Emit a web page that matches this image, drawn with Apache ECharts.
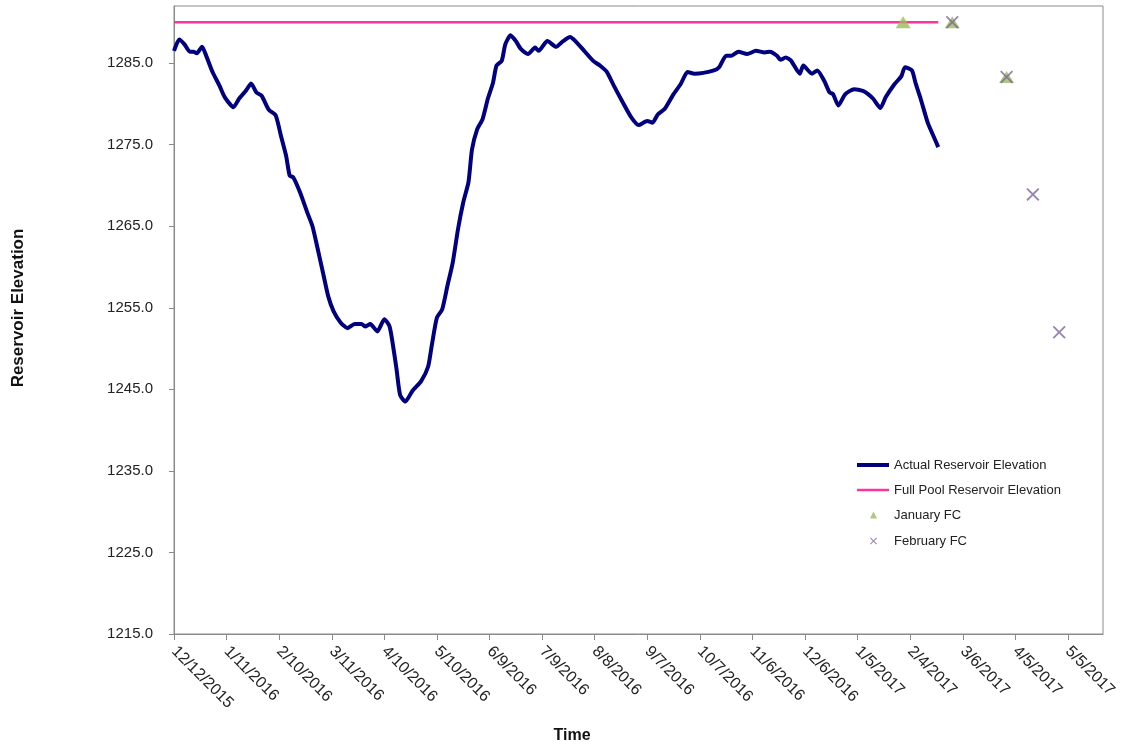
<!DOCTYPE html>
<html>
<head>
<meta charset="utf-8">
<title>Reservoir Elevation</title>
<script src="https://cdn.jsdelivr.net/npm/echarts@6/dist/echarts.min.js"></script>
<style>
  html, body { margin: 0; padding: 0; background: #fff; }
  #chart { width: 1125px; height: 749px; }
</style>
</head>
<body>
<div id="chart"></div>
<script>
// day 0 = 12/12/2015
const startDate = Date.UTC(2015, 11, 12);

const xTickDays = [0, 30, 60, 90, 120, 150, 180, 210, 240, 270, 300, 330, 360, 390, 420, 450, 480, 510];
const yTicks = [1215, 1225, 1235, 1245, 1255, 1265, 1275, 1285];

// actual reservoir elevation (days since start, feet)
const actualDays = [0, 3, 6, 9, 11, 13, 16, 18, 22, 26, 29, 34, 37, 41, 44, 47, 50, 54, 58, 61,
  64, 66, 68, 72, 76, 79, 82, 85, 88, 91, 95, 99, 103, 107, 109, 112, 116, 120, 123, 125,
  127, 129, 132, 136, 141, 145, 147, 150, 153, 156, 159, 162, 165, 168, 170, 173, 176, 179, 182, 184,
  187, 189, 192, 195, 198, 202, 206, 208, 213, 218, 222, 226, 229, 234, 239, 243, 247, 251, 256, 261,
  265, 270, 273, 276, 280, 285, 289, 293, 297, 302, 308, 311, 315, 318, 322, 327, 332, 337, 340, 344,
  346, 349, 352, 357, 359, 364, 367, 371, 374, 376, 379, 383, 388, 393, 396, 399, 403, 406, 411, 415,
  417, 421, 423, 426, 430, 434, 436];
const actualElev = [1286.5, 1287.9, 1287.3, 1286.4, 1286.4, 1286.2, 1287.0, 1286.1, 1283.9, 1282.2, 1280.8, 1279.6, 1280.6, 1281.6, 1282.5, 1281.4, 1281.0, 1279.3, 1278.6, 1276.1,
  1273.6, 1271.2, 1271.0, 1269.1, 1266.7, 1265.0, 1262.2, 1259.3, 1256.4, 1254.6, 1253.2, 1252.5, 1253.0, 1253.0, 1252.7, 1253.0, 1252.1, 1253.6, 1252.7, 1250.3,
  1247.4, 1244.3, 1243.5, 1244.8, 1246.0, 1247.8, 1250.3, 1253.8, 1254.8, 1257.7, 1260.5, 1264.6, 1267.9, 1270.4, 1274.4, 1276.9, 1278.1, 1280.6, 1282.6, 1284.7,
  1285.3, 1287.3, 1288.4, 1287.7, 1286.7, 1286.1, 1286.9, 1286.5, 1287.7, 1287.0, 1287.7, 1288.2, 1287.7, 1286.5, 1285.3, 1284.7, 1283.9, 1282.2, 1280.2, 1278.3,
  1277.4, 1277.9, 1277.7, 1278.7, 1279.4, 1281.2, 1282.4, 1283.9, 1283.7, 1283.8, 1284.1, 1284.5, 1285.9, 1285.9, 1286.4, 1286.1, 1286.5, 1286.3, 1286.4, 1285.9,
  1285.4, 1285.7, 1285.3, 1283.7, 1284.7, 1283.7, 1284.1, 1282.8, 1281.4, 1281.2, 1279.8, 1281.2, 1281.8, 1281.6, 1281.2, 1280.6, 1279.5, 1280.8, 1282.4, 1283.4,
  1284.5, 1284.1, 1282.6, 1280.6, 1277.7, 1275.7, 1274.7];

const fullPoolDays = [0, 436];
const fullPoolElev = [1290, 1290];

const janFcDays = [416, 444, 475];
const janFcElev = [1290, 1290, 1283.3];

const febFcDays = [444, 475, 490, 505];
const febFcElev = [1290, 1283.3, 1268.9, 1252.0];

function pairs(xs, ys) {
  return xs.map((x, i) => [x, ys[i]]);
}

function dayLabel(v) {
  const d = new Date(startDate + v * 86400000);
  return (d.getUTCMonth() + 1) + '/' + d.getUTCDate() + '/' + d.getUTCFullYear();
}

const xMark = 'path://M0,2L2,0L10,8L18,0L20,2L12,10L20,18L18,20L10,12L2,20L0,18L8,10Z';
const font = 'Liberation Sans, Arial, sans-serif';
const legendText = { fontSize: 13, color: '#222', fontFamily: font, lineHeight: 16 };

const chart = echarts.init(document.getElementById('chart'));
chart.setOption({
  backgroundColor: '#fff',
  animation: false,
  textStyle: { fontFamily: font },
  grid: {
    left: 174,
    top: 6,
    right: 22,
    bottom: 115,
    show: true,
    borderColor: '#8a8a8a',
    borderWidth: 1
  },
  legend: [
    {
      // line entries
      orient: 'vertical',
      left: 857,
      top: 457,
      padding: 0,
      itemWidth: 32,
      itemHeight: 8,
      itemGap: 9,
      textStyle: legendText,
      data: [
        { name: 'Actual Reservoir Elevation', icon: 'path://M0,0L32,0L32,4L0,4Z' },
        { name: 'Full Pool Reservoir Elevation', icon: 'path://M0,0L32,0L32,2.5L0,2.5Z' }
      ]
    },
    {
      // marker entries
      orient: 'vertical',
      left: 870,
      top: 507,
      padding: 0,
      itemWidth: 7,
      itemHeight: 7,
      itemGap: 10,
      textStyle: Object.assign({}, legendText, { rich: { g: { width: 12 } } }),
      formatter: name => '{g|}' + name,
      data: [
        { name: 'January FC', icon: 'triangle' },
        { name: 'February FC', icon: xMark }
      ]
    }
  ],
  xAxis: {
    type: 'value',
    min: 0,
    max: 530,
    interval: 30,
    splitLine: { show: false },
    axisLine: { lineStyle: { color: '#8a8a8a' } },
    axisTick: { length: 6, customValues: xTickDays, lineStyle: { color: '#8a8a8a' } },
    axisLabel: {
      customValues: xTickDays,
      rotate: -45,
      margin: 15,
      fontSize: 16,
      color: '#222',
      formatter: dayLabel
    }
  },
  yAxis: {
    type: 'value',
    min: 1215,
    max: 1292,
    interval: 10,
    splitLine: { show: false },
    axisLine: { show: true, lineStyle: { color: '#8a8a8a' } },
    axisTick: { show: true, length: 5, customValues: yTicks, lineStyle: { color: '#8a8a8a' } },
    axisLabel: {
      customValues: yTicks,
      margin: 21,
      fontSize: 15,
      color: '#222',
      formatter: v => v.toFixed(1)
    }
  },
  graphic: [
    {
      type: 'text',
      x: 18,
      y: 308,
      rotation: Math.PI / 2,
      style: {
        text: 'Reservoir Elevation',
        font: 'bold 17px ' + font,
        fill: '#111',
        align: 'center',
        verticalAlign: 'middle'
      }
    },
    {
      type: 'text',
      x: 572,
      y: 736,
      style: {
        text: 'Time',
        font: 'bold 16px ' + font,
        fill: '#111',
        align: 'center',
        verticalAlign: 'middle'
      }
    }
  ],
  series: [
    {
      name: 'Actual Reservoir Elevation',
      type: 'line',
      symbol: 'none',
      smooth: 0.2,
      color: '#000080',
      lineStyle: { width: 4, color: '#000080' },
      data: pairs(actualDays, actualElev),
      z: 3
    },
    {
      name: 'Full Pool Reservoir Elevation',
      type: 'line',
      symbol: 'none',
      color: '#ff3399',
      lineStyle: { width: 2.5, color: '#ff3399' },
      data: pairs(fullPoolDays, fullPoolElev),
      z: 2
    },
    {
      name: 'January FC',
      type: 'scatter',
      symbol: 'triangle',
      symbolSize: [15, 12],
      itemStyle: { color: '#9bbb59' },
      data: pairs(janFcDays, janFcElev),
      z: 4
    },
    {
      name: 'February FC',
      type: 'scatter',
      symbol: xMark,
      symbolSize: 13,
      itemStyle: { color: '#8064a2' },
      data: pairs(febFcDays, febFcElev),
      z: 5
    }
  ]
});
</script>
</body>
</html>
